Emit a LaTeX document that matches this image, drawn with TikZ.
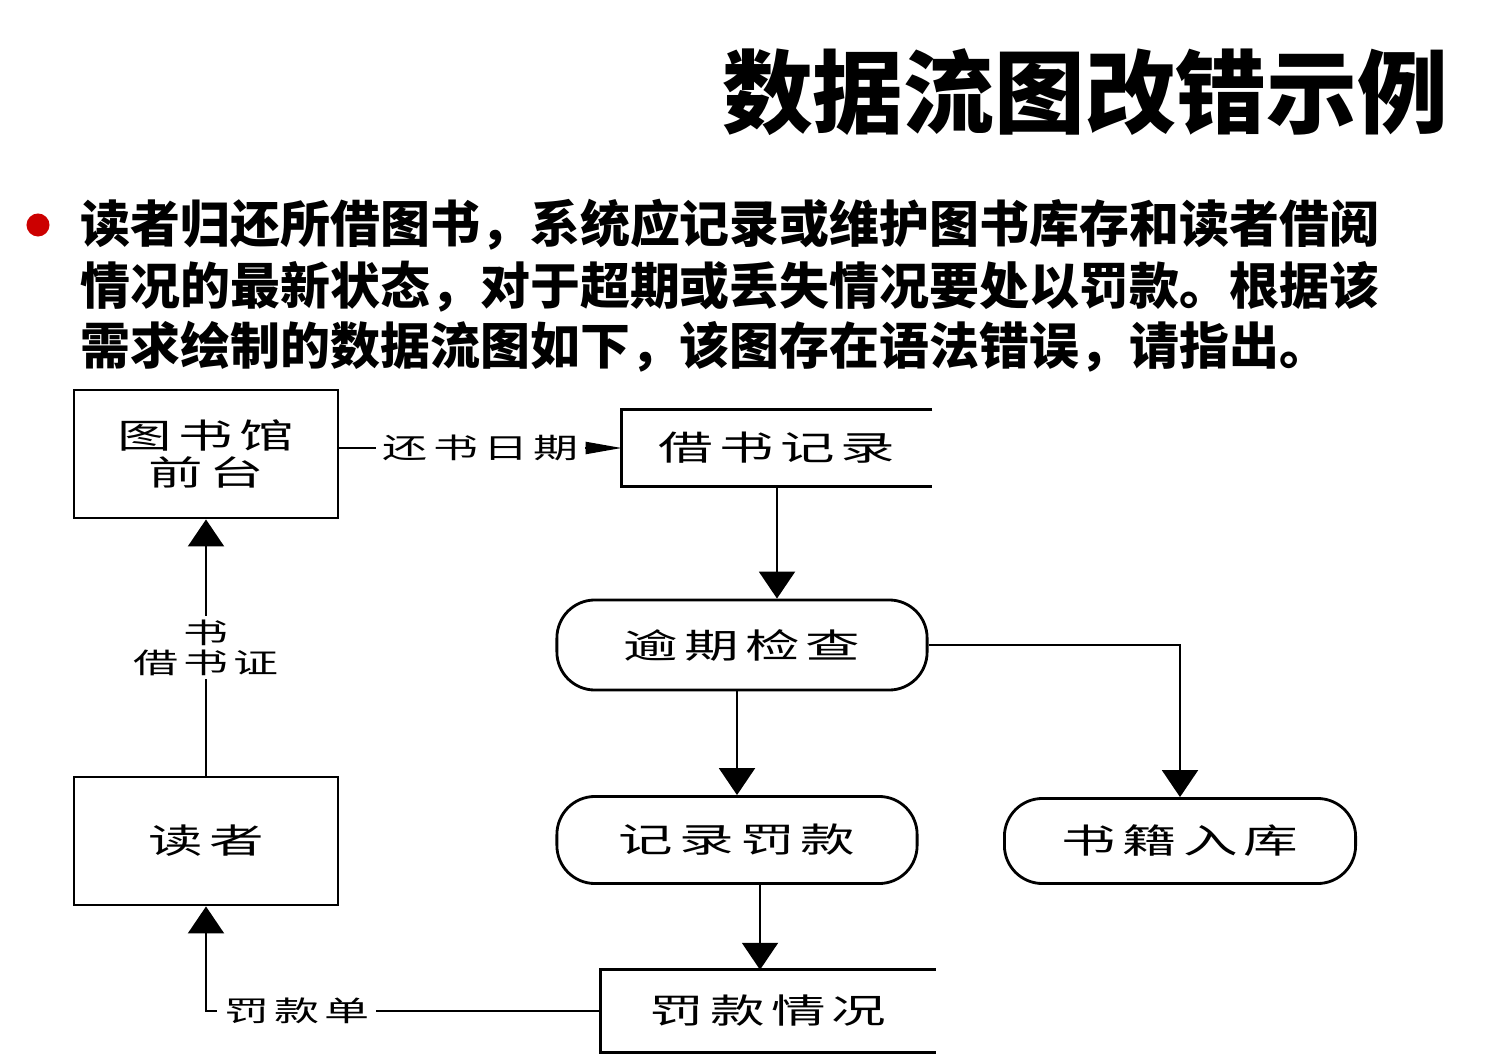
\documentclass[tikz,border=0pt]{standalone}
\usepackage{fontspec}
\usetikzlibrary{arrows.meta}
\newfontfamily\cjk{Noto Sans CJK SC}
\newfontfamily\cjkflow[FakeStretch=1.6,LetterSpace=18]{Noto Sans CJK SC}
\definecolor{bulletred}{RGB}{204,0,0}
\tikzset{>={Triangle[length=0.27cm,width=0.36cm]}}
\tikzset{
  flowline/.style={line width=0.6pt},
  vflow/.style={flowline,->},
  hflow/.style={flowline,-{Triangle[length=0.36cm,width=0.12cm]}},
  boxtext/.style={font=\cjkflow\fontsize{9.7}{10.5}\selectfont},
  entity/.style={boxtext,draw,line width=0.8pt,minimum width=2.64cm,
    minimum height=1.28cm,align=center},
  process/.style={boxtext,draw,line width=0.8pt,rounded corners=0.38cm,
    minimum height=0.88cm},
  store/.style={boxtext,inner sep=0pt},
  flowlabel/.style={fill=white,inner sep=2pt,align=center,
    font=\cjkflow\fontsize{8}{8.5}\selectfont},
  title/.style={font=\cjk\bfseries\fontsize{25.8}{30}\selectfont},
  desc/.style={anchor=west,inner sep=0pt,font=\cjk\bfseries\fontsize{14.2}{17}\selectfont},
  bullet/.style={circle,fill=bulletred,inner sep=0pt,minimum size=0.23cm},
}
\begin{document}
\begin{tikzpicture}[x=0.01cm,y=-0.01cm]
  \useasboundingbox (0,0) rectangle (1506,1058);
  \node[title] (title) at (1085,92) {数据流图改错示例};
  \node[bullet] (dot) at (38,225) {};
  \node[desc] (line1) at (80,225) {读者归还所借图书，系统应记录或维护图书库存和读者借阅};
  \node[desc] (line2) at (80,287) {情况的最新状态，对于超期或丢失情况要处以罚款。根据该};
  \node[desc] (line3) at (80,347) {需求绘制的数据流图如下，该图存在语法错误，请指出。};

  \node[entity] (desk) at (206,454) {图书馆\\前台};
  \node[entity] (reader) at (206,841) {读者};
  \node[store,minimum width=3.09cm,minimum height=0.75cm] (loanrec) at (777,448) {借书记录};
  \node[process,minimum width=3.70cm,minimum height=0.90cm] (overdue) at (742,645) {逾期检查};
  \node[process,minimum width=3.60cm,minimum height=0.87cm] (finerec) at (737,840) {记录罚款};
  \node[process,minimum width=3.51cm,minimum height=0.85cm] (stockin) at (1180,841) {书籍入库};
  \node[store,minimum width=3.34cm,minimum height=0.81cm] (fineinfo) at (768,1011) {罚款情况};

  % data stores, open on the right
  \draw[line width=0.8pt] (loanrec.north east) -- (loanrec.north west)
    -- (loanrec.south west) -- (loanrec.south east);
  \draw[line width=0.8pt] (fineinfo.north east) -- (fineinfo.north west)
    -- (fineinfo.south west) -- (fineinfo.south east);

  % flows
  \draw[hflow] (desk.east |- loanrec.west) -- node[flowlabel] {还书日期} (loanrec.west);
  \draw[vflow] (loanrec.south) -- (loanrec.south |- overdue.north);
  \draw[vflow] (finerec.north |- overdue.south) -- (finerec.north);
  \draw[vflow] (overdue.east) -| (stockin.north);
  \coordinate (fineout) at ([xshift=0.23cm]finerec.south);
  \draw[vflow] (fineout) -- (fineout |- fineinfo.north);
  \draw[vflow] (fineinfo.west) -| node[flowlabel,pos=0.385] {罚款单} (reader.south);
  \draw[vflow] (reader.north) -- node[flowlabel,inner sep=1pt] {书\\借书证} (desk.south);
\end{tikzpicture}
\end{document}
